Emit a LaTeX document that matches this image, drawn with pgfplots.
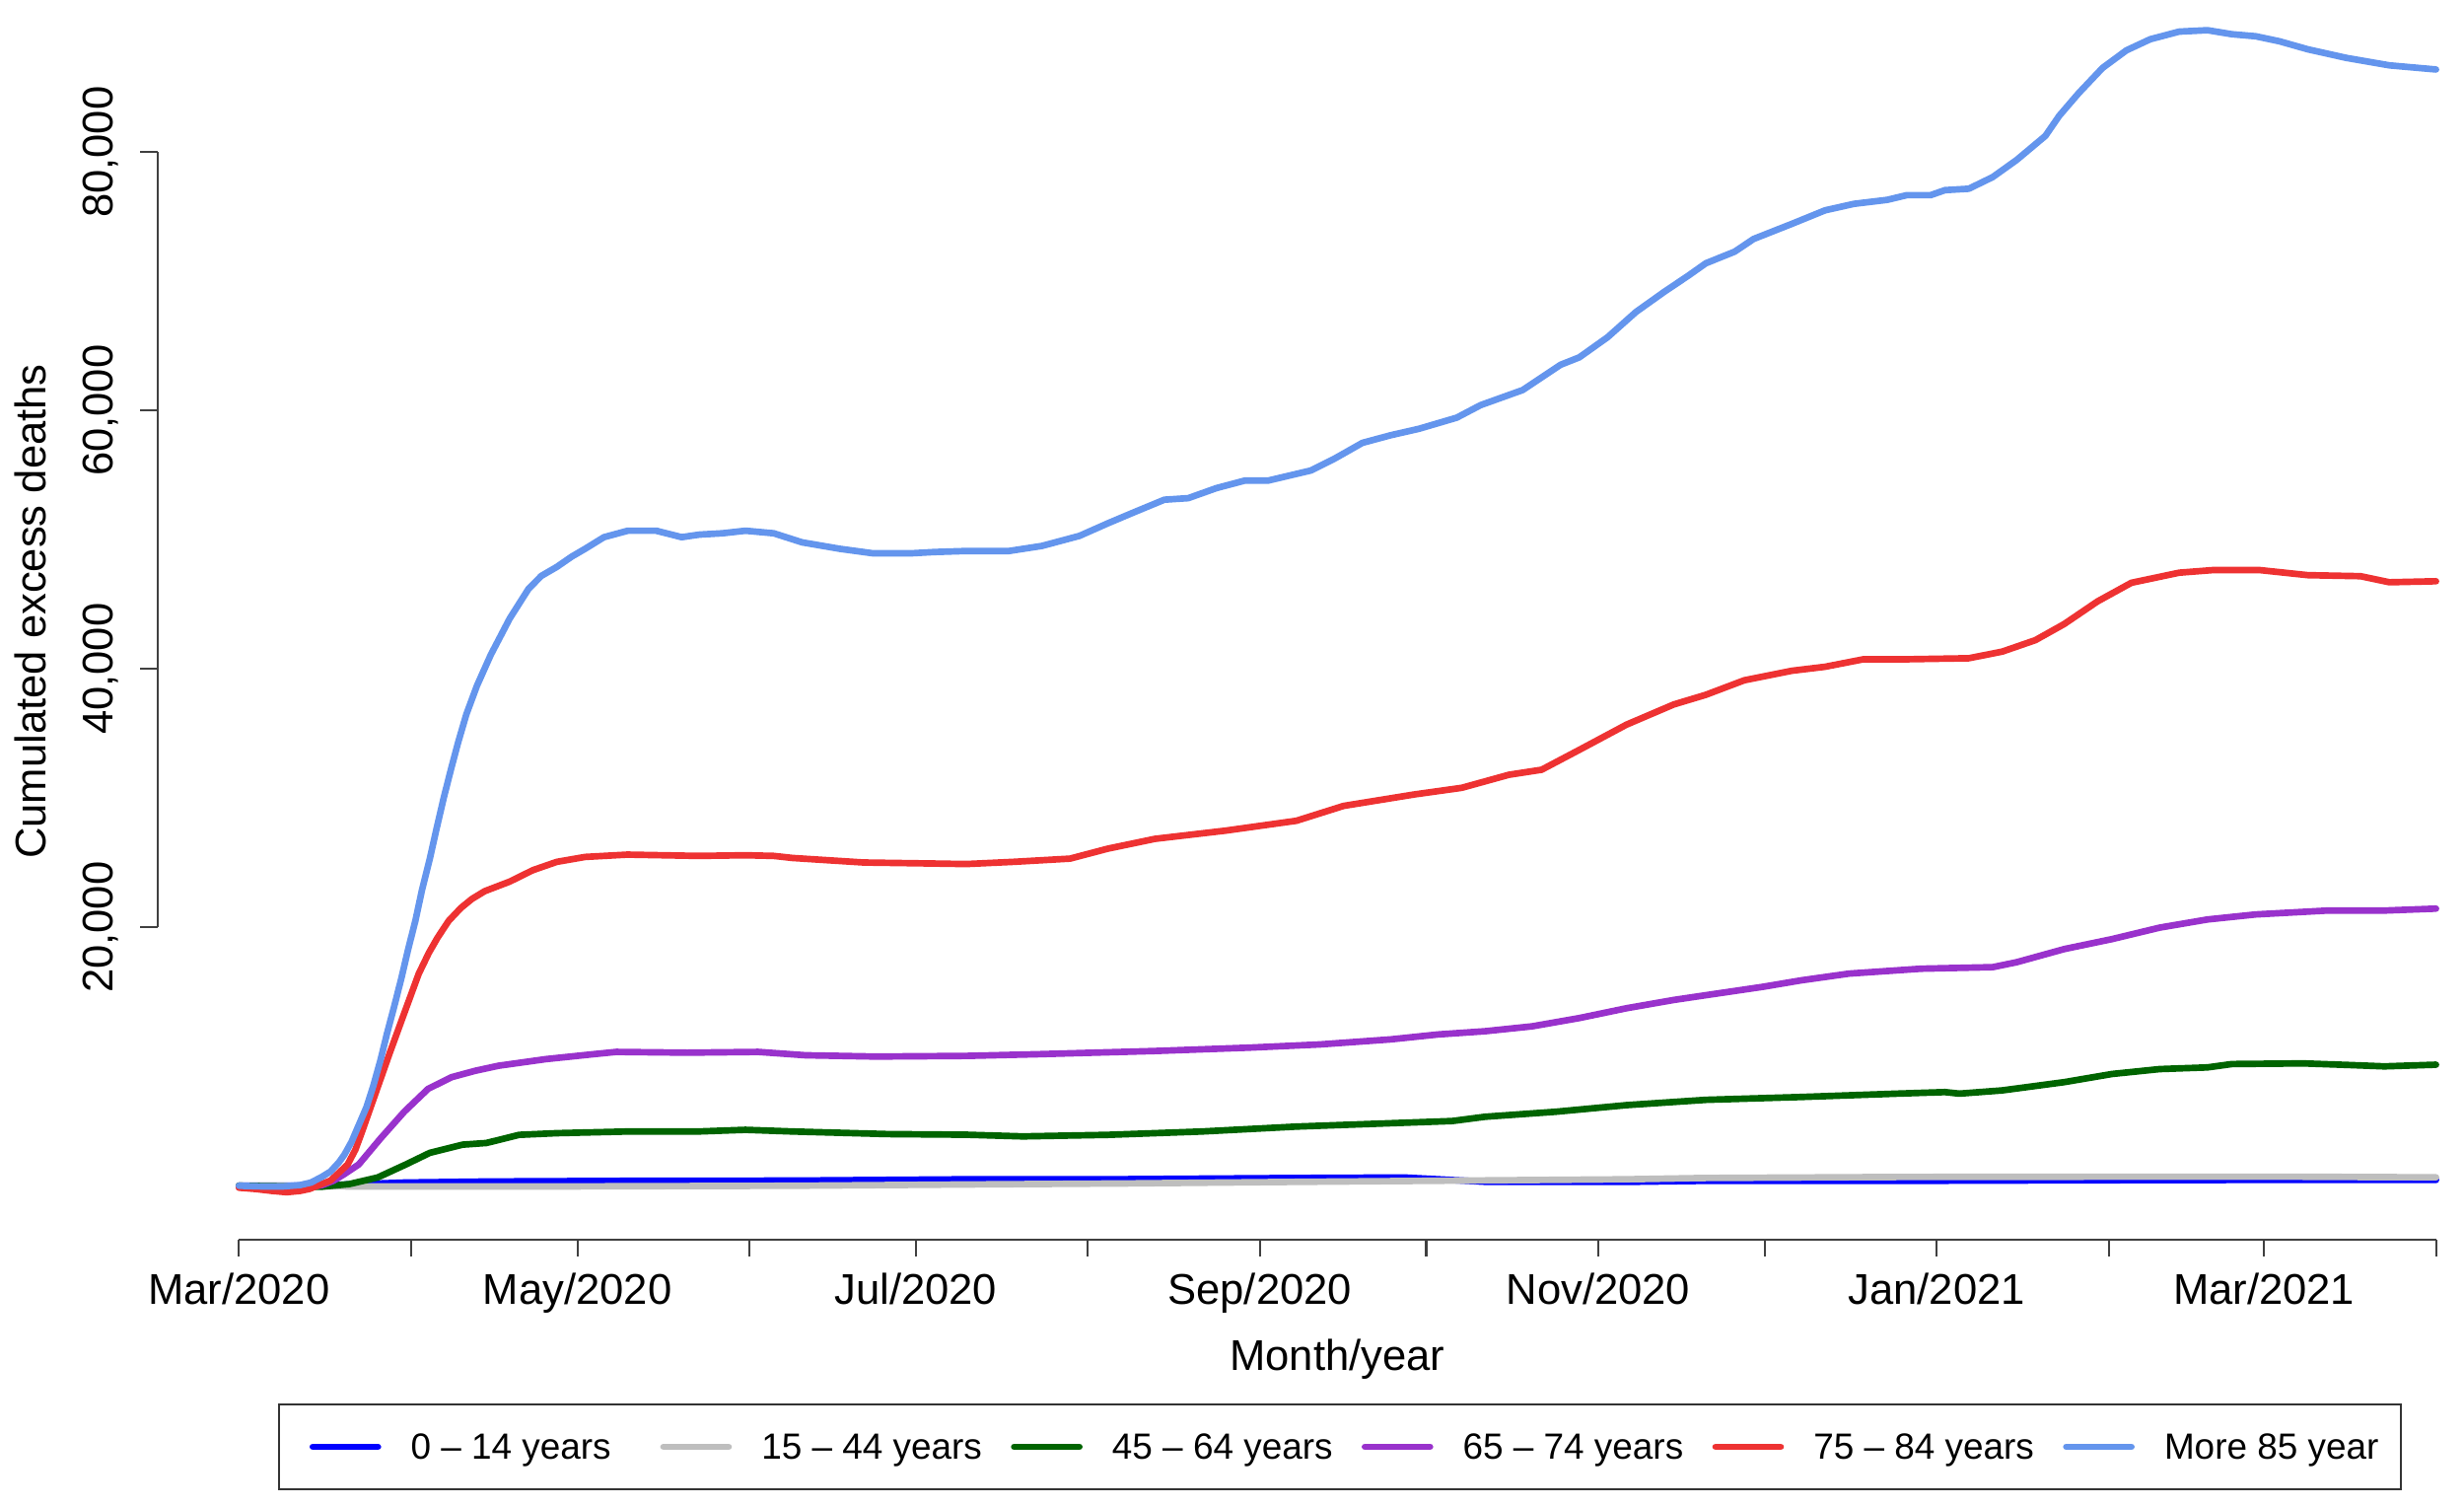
\documentclass[border=0pt]{standalone}
\usepackage{fontspec}
\setmainfont{Liberation Sans}
\usepackage{pgfplots}
\pgfplotsset{compat=1.18}
\definecolor{cA}{RGB}{0,0,255}
\definecolor{cB}{RGB}{190,190,190}
\definecolor{cC}{RGB}{0,100,0}
\definecolor{cD}{RGB}{153,50,204}
\definecolor{cE}{RGB}{238,50,50}
\definecolor{cF}{RGB}{100,149,237}
\begin{document}
\begin{tikzpicture}
\begin{axis}[
 name=ax,
 scale only axis, width=23.39cm, height=12.567cm,
 xmin=-14.63, xmax=401.05, ymin=-4153, ymax=91779,
 axis x line*=bottom, axis y line*=left,
 axis line style={draw=none},
 clip=false,
 tick align=outside,
 major tick length=0.175cm,
 tick style={black!75, line width=0.6pt},
 scaled y ticks=false,
 xtick={0,31,61,92,122,153,184,214,245,275,306,337,365,396},
 xticklabels={Mar/2020,{},May/2020,{},Jul/2020,{},Sep/2020,{},Nov/2020,{},Jan/2021,{},Mar/2021,{}},
 ytick={20000,40000,60000,80000},
 yticklabels={{20,000},{40,000},{60,000},{80,000}},
 tick label style={font=\fontsize{12.4}{14.9}\selectfont},
 xticklabel style={anchor=base, yshift=-0.48cm},
 yticklabel style={xshift=-0.28cm, rotate=90, anchor=base},
 xlabel={Month/year},
 ylabel={Cumulated excess deaths},
 every axis x label/.style={at={(axis description cs:0.5115,-0.10607)}, anchor=base, font=\fontsize{12.4}{14.9}\selectfont},
 every axis y label/.style={at={(axis description cs:-0.04844,0.50665)}, anchor=base, rotate=90, font=\fontsize{12.4}{14.9}\selectfont},
 every axis plot/.append style={line width=1.9pt, line cap=round, line join=round},
 legend columns=6,
 legend image code/.code={\draw[#1] (0cm,0cm) -- (0.66cm,0cm);},
 legend style={at={(0.5126,-0.16734)}, anchor=center, draw=black!80, line width=0.6pt, fill=white,
   inner xsep=0.31cm, inner ysep=0.307cm, font=\fontsize{10.5}{12.6}\selectfont,
   nodes={inner sep=0pt, text height=0.72em, text depth=0pt},
   /tikz/every odd column/.append style={column sep=0.30cm},
   /tikz/every even column/.append style={column sep=0pt}},
]
\addplot[cA] coordinates {(0,0) (10,0) (20,100) (30,250) (45,330) (70,380) (100,400) (131,500) (160,510) (190,600) (210,640) (225,300) (250,300) (264,380) (300,380) (330,420) (360,450) (396,450)};
\addlegendentry{\makebox[2.53cm][l]{0 – 14 years}}
\addplot[cB] coordinates {(0,0) (20,-50) (60,-50) (100,0) (131,100) (160,180) (190,300) (220,400) (250,500) (264,600) (300,680) (340,700) (370,700) (396,650)};
\addlegendentry{\makebox[2.53cm][l]{15 – 44 years}}
\addplot[cC] coordinates {(0,0) (8,-50) (14.8,-80) (19.9,130) (25,640) (30.1,1650) (34.4,2545) (40.3,3180) (44.6,3310) (50.5,3940) (57.3,4070) (70.1,4200) (82.8,4200) (91.3,4330) (99.8,4200) (116.8,4000) (131.1,3950) (141.3,3820) (156.6,3940) (173.6,4200) (190.6,4580) (207.6,4840) (218.7,5010) (224.6,5340) (237.4,5730) (250.1,6240) (264.4,6650) (281.6,6870) (298.9,7130) (307.5,7250) (310.1,7130) (317.8,7380) (329,8020) (337.6,8650) (346.2,9030) (354.8,9160) (359.2,9420) (372.1,9470) (380.7,9340) (386.7,9240) (396,9370)};
\addlegendentry{\makebox[2.53cm][l]{45 – 64 years}}
\addplot[cD] coordinates {(0,-100) (5,-200) (8.6,-250) (12,-150) (15,50) (17,380) (19,900) (21.6,1650) (25.6,3700) (29.8,5730) (34.1,7500) (38.3,8400) (42.6,8900) (46.8,9290) (55.3,9800) (63.8,10180) (68,10360) (80.8,10300) (93.6,10360) (102.1,10100) (114.8,10000) (131.1,10050) (143.9,10180) (165.1,10430) (182.1,10690) (194.9,10940) (207.6,11330) (216.1,11710) (224.6,11960) (233.1,12340) (241.6,12980) (250.1,13740) (258.6,14380) (264.4,14750) (274.7,15400) (281.6,15900) (290.2,16420) (303.2,16800) (316.1,16920) (320.4,17300) (329,18320) (337.6,19090) (346.2,19980) (354.8,20610) (363.5,21000) (376.4,21300) (386.7,21300) (396,21450)};
\addlegendentry{\makebox[2.53cm][l]{65 – 74 years}}
\addplot[cE] coordinates {(0,-150) (3,-250) (6,-400) (8.6,-500) (11,-400) (12.7,-250) (15,150) (16.5,400) (18,1000) (19.6,1650) (21,2800) (22.2,4200) (24.7,7250) (27.2,10300) (29.8,13360) (32.4,16400) (34.2,18000) (35.8,19200) (37.8,20500) (40,21500) (42,22200) (44.3,22800) (48.8,23540) (53,24430) (57.3,25070) (62.4,25450) (70,25630) (82.8,25530) (91.3,25580) (96.4,25530) (99.8,25370) (112.6,25020) (125.3,24940) (131.1,24900) (139.6,25070) (149.8,25320) (156.6,26090) (165.1,26850) (177.9,27490) (190.6,28250) (199.1,29400) (211.9,30290) (220.4,30800) (228.9,31810) (234.8,32200) (241.6,33740) (250.1,35690) (258.6,37250) (264.4,38000) (271.3,39120) (279.9,39860) (285.9,40170) (292.8,40750) (300.6,40750) (311.8,40830) (317.8,41340) (323.8,42230) (329,43480) (335,45230) (341.1,46670) (349.7,47450) (355.7,47650) (364.3,47650) (372.9,47260) (382.4,47180) (387.6,46710) (396,46790)};
\addlegendentry{\makebox[2.53cm][l]{75 – 84 years}}
\addplot[cF] coordinates {(0,0) (4,-50) (8,-50) (11,50) (13,250) (15,700) (16.5,1100) (18,1800) (19,2400) (20.3,3400) (21.6,4700) (23,6100) (24.2,7700) (25.5,9700) (26.7,11800) (28,13900) (29.3,16100) (30.5,18300) (31.8,20500) (33,22900) (34.4,25300) (35.6,27600) (36.9,30000) (38.2,32200) (39.5,34300) (41,36500) (42.9,38700) (45.4,41100) (48.8,43900) (52.2,46200) (54.5,47200) (57.3,47900) (60,48700) (62.4,49300) (65.8,50200) (70.1,50700) (75.2,50700) (79.8,50200) (83,50400) (87.1,50500) (91.3,50700) (96.4,50500) (101.5,49800) (108.3,49300) (114.3,48950) (121.1,48950) (125.3,49050) (131.1,49130) (138.8,49130) (144.7,49520) (151.5,50300) (156.6,51270) (160.9,52050) (166.8,53100) (171.1,53220) (176.2,54000) (181.3,54580) (185.5,54580) (193.2,55360) (197.4,56260) (202.5,57500) (207.6,58090) (212.7,58590) (219.5,59450) (223.8,60420) (231.4,61590) (238.2,63540) (241.6,64120) (246.7,65680) (251.8,67630) (256.9,69190) (261.2,70430) (264.4,71400) (269.6,72300) (273,73280) (279.9,74450) (285.9,75500) (291.1,76000) (297.1,76310) (300.6,76670) (304.9,76670) (307.5,77060) (311.8,77170) (316.1,78070) (320.4,79390) (325.6,81260) (328.1,82820) (331.6,84570) (335.9,86520) (340.2,87880) (344.5,88740) (349.7,89330) (354.8,89440) (359.2,89130) (363.5,88970) (367.8,88580) (372.9,87960) (379.8,87300) (387.6,86720) (396,86400)};
\addlegendentry{\makebox[2.09cm][l]{More 85 year}}
\draw[black!75, line width=0.6pt] (axis cs:0,-4153) -- (axis cs:396,-4153);
\draw[black!75, line width=0.6pt] (axis cs:-14.63,20000) -- (axis cs:-14.63,80000);
\end{axis}
\pgfresetboundingbox
\useasboundingbox ([xshift=-1.6cm,yshift=-2.713cm]ax.south west) rectangle (ax.north east);
\end{tikzpicture}
\end{document}
